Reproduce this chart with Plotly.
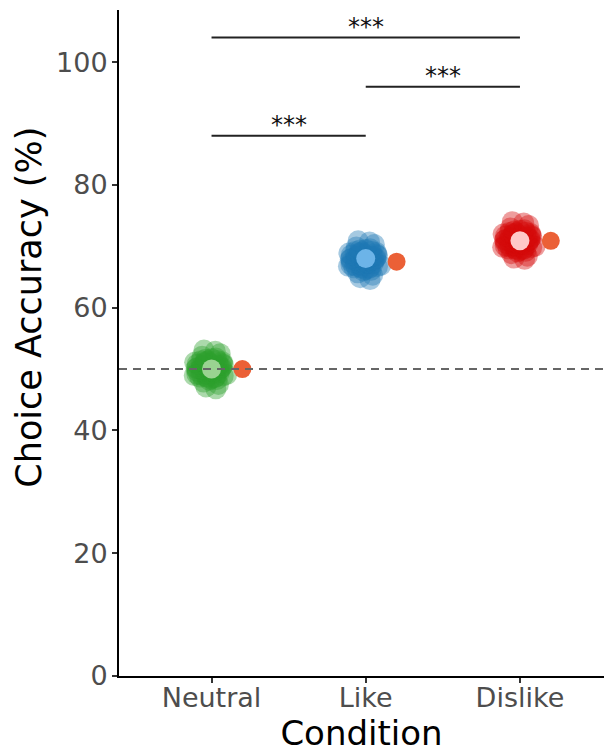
import plotly.graph_objects as go

# ---------------- data ----------------
categories = ["Neutral", "Like", "Dislike"]

neutral_samples = [48.6, 48.7, 48.8, 48.9, 49.0, 49.1, 49.2, 49.3,
                   49.4, 49.5, 49.6, 49.7, 49.8, 49.9, 50.0, 50.1, 50.2, 50.3,
                   50.4, 50.5, 50.6, 50.7, 50.8, 50.9, 51.0, 51.1, 51.2, 51.3,
                   51.4, 48.65, 48.95, 49.45, 49.95, 50.45, 50.95, 51.35,
                   48.75, 49.15, 49.65, 50.15, 50.65, 51.15, 48.2, 47.9, 47.5, 47.1,
                   51.8, 52.1, 52.5, 52.9, 48.4, 51.6, 48.3, 51.7, 46.8, 53.1]
like_samples = [66.4, 66.5, 66.6, 66.7, 66.8, 66.9, 67.0, 67.1,
                67.2, 67.3, 67.4, 67.5, 67.6, 67.7, 67.8, 67.9, 68.0, 68.1,
                68.2, 68.3, 68.4, 68.5, 68.6, 68.7, 68.8, 68.9, 69.0, 69.1,
                69.2, 66.45, 66.75, 67.25, 67.75, 68.25, 68.75, 69.15,
                66.55, 66.95, 67.45, 67.95, 68.45, 68.95, 66.0, 65.7, 65.3, 64.9,
                69.6, 69.9, 70.3, 70.7, 66.2, 69.4, 66.1, 69.5, 64.6, 70.9]
dislike_samples = [69.5, 69.6, 69.7, 69.8, 69.9, 70.0, 70.1, 70.2,
                   70.3, 70.4, 70.5, 70.6, 70.7, 70.8, 70.9, 71.0, 71.1, 71.2,
                   71.3, 71.4, 71.5, 71.6, 71.7, 71.8, 71.9, 72.0, 72.1, 72.2,
                   72.3, 69.55, 69.85, 70.35, 70.85, 71.35, 71.85, 72.25,
                   69.65, 70.05, 70.55, 71.05, 71.55, 72.05, 69.1, 68.8, 68.4, 68.1,
                   72.7, 73.0, 73.4, 73.8, 69.3, 72.5, 69.2, 72.6, 67.9, 74.0]

sample_means = [50.0, 68.0, 70.9]
observed_accuracy = [50.0, 67.5, 70.9]
chance_level = 50

sig_pairs = [(0, 1), (1, 2), (0, 2)]
sig_heights = [88, 96, 104]
sig_labels = ["***", "***", "***"]

y_ticks = [0, 20, 40, 60, 80, 100]
y_title = "Choice Accuracy (%)"
y_title_center = 60

# ---------------- styles ----------------
FONT = "DejaVu Sans"
cloud_colors = ["#2ca02c", "#1f77b4", "#d40a0a"]
mean_colors = ["#9ad391", "#6cb4e8", "#ffc8c8"]
obs_color = "#eb6036"
OBS_OFFSET = 0.2

fig = go.Figure()

all_samples = [neutral_samples, like_samples, dislike_samples]
for i, (samples, col) in enumerate(zip(all_samples, cloud_colors)):
    fig.add_trace(go.Box(
        x=[i] * len(samples), y=samples,
        boxpoints="all", jitter=1, pointpos=0, width=0.24,
        line=dict(width=0, color="rgba(0,0,0,0)"),
        fillcolor="rgba(0,0,0,0)",
        marker=dict(color=col, size=21, opacity=0.4),
        showlegend=False, hoverinfo="skip",
    ))

fig.add_trace(go.Scatter(
    x=list(range(len(categories))), y=sample_means, mode="markers",
    marker=dict(color=mean_colors, size=19, line=dict(width=0)),
    showlegend=False,
))

fig.add_trace(go.Scatter(
    x=[i + OBS_OFFSET for i in range(len(categories))], y=observed_accuracy,
    mode="markers",
    marker=dict(color=obs_color, size=18, line=dict(width=0)),
    showlegend=False,
))

# chance line
fig.add_shape(type="line", xref="paper", x0=0, x1=1, yref="y",
              y0=chance_level, y1=chance_level,
              line=dict(color="#666666", width=2, dash="8px,6px"), layer="above")

# significance bars
for (a, b), h, lab in zip(sig_pairs, sig_heights, sig_labels):
    fig.add_shape(type="line", xref="x", yref="y", x0=a, x1=b, y0=h, y1=h,
                  line=dict(color="#222222", width=2), layer="above")
    fig.add_annotation(x=(a + b) / 2, y=h, text=lab, showarrow=False,
                       xanchor="center", yanchor="bottom", yshift=-5,
                       font=dict(family=FONT, size=24, color="#111111"))

# y-axis title (rotated text; in the reference it sits above the panel centre)
fig.add_annotation(xref="paper", x=0, yref="y", y=y_title_center, text=y_title,
                   textangle=-90, showarrow=False, xanchor="center", yanchor="middle",
                   xshift=-90, font=dict(family=FONT, size=35, color="black"))

axis_common = dict(
    showline=True, linecolor="black", linewidth=2,
    ticks="outside", ticklen=5, tickwidth=2, tickcolor="#333333",
    tickfont=dict(family=FONT, size=27, color="#4d4d4d"),
    showgrid=False, zeroline=False,
)

fig.update_layout(
    width=604, height=753,
    margin=dict(l=119, r=0, t=10, b=73),
    paper_bgcolor="white", plot_bgcolor="white",
    font=dict(family=FONT),
    xaxis=dict(range=[-0.6, 2.545], tickvals=list(range(len(categories))),
               ticktext=categories,
               title=dict(text="Condition", font=dict(family=FONT, size=34, color="black"),
                          standoff=16),
               ticklabelstandoff=-8,
               **axis_common),
    yaxis=dict(range=[0, 108.5], tickvals=y_ticks, ticklabelstandoff=-1,
               **axis_common),
    boxmode="overlay", boxgap=0,
)

fig.write_html(
    "out.html",
    config={"displayModeBar": False},
    post_script="document.body.style.margin='0px';document.body.style.overflow='hidden';",
)
